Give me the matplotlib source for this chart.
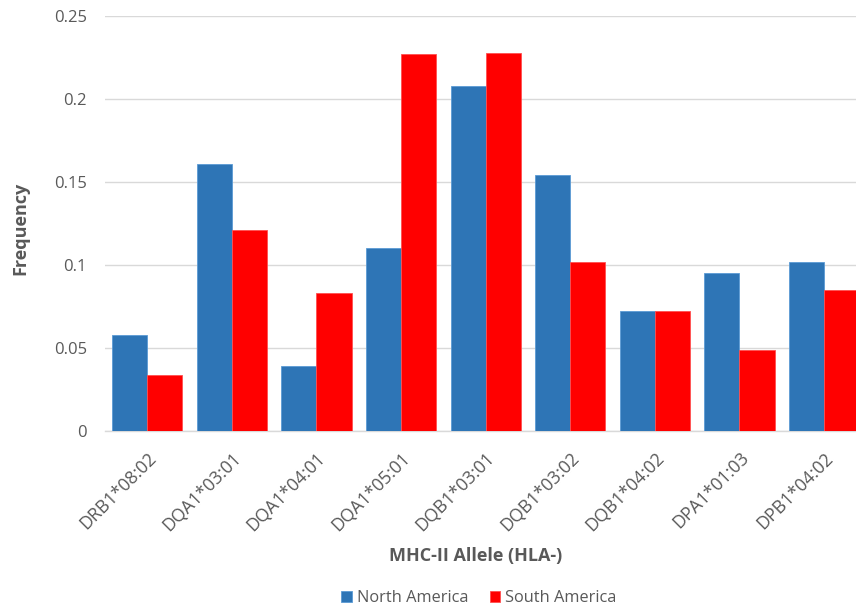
import matplotlib
matplotlib.use("Agg")
import matplotlib.pyplot as plt
import numpy as np

alleles = ["DRB1*08:02", "DQA1*03:01", "DQA1*04:01", "DQA1*05:01", "DQB1*03:01",
           "DQB1*03:02", "DQB1*04:02", "DPA1*01:03", "DPB1*04:02"]
north_america = [0.058, 0.161, 0.039, 0.110, 0.208, 0.154, 0.072, 0.095, 0.102]
south_america = [0.034, 0.121, 0.083, 0.227, 0.228, 0.102, 0.072, 0.049, 0.085]
y_ticks = [0, 0.05, 0.1, 0.15, 0.2, 0.25]
y_tick_labels = ["0", "0.05", "0.1", "0.15", "0.2", "0.25"]

plt.rcParams['font.family'] = ['Open Sans', 'DejaVu Sans']
text_gray = "#595959"

W, H = 856, 610
fig = plt.figure(figsize=(W / 100, H / 100), dpi=100)
ax = fig.add_axes([105 / W, (H - 431) / H, (856 - 105) / W, (431 - 16) / H])

x = np.arange(len(alleles))
bw = 0.414
ax.bar(x - bw / 2, north_america, width=bw, color="#2E75B6", edgecolor="#5B9BD5",
       linewidth=0.6, label="North America", zorder=3)
ax.bar(x + bw / 2, south_america, width=bw, color="#FF0000", edgecolor="#FF5050",
       linewidth=0.6, label="South America", zorder=3)

ax.set_ylim(0, 0.25)
ax.set_xlim(-0.5, -0.5 + 751 / 84.6)
ax.set_yticks(y_ticks)
ax.set_yticklabels(y_tick_labels, fontsize=12)
ax.set_xticks(x)
ax.set_xticklabels(alleles, rotation=45, ha="right", va="top",
                   rotation_mode="anchor", fontsize=12.8)
ax.tick_params(axis="both", length=0, colors=text_gray)
ax.tick_params(axis="y", pad=13)
ax.tick_params(axis="x", pad=13)
ax.yaxis.grid(True, color="#D9D9D9", linewidth=1, zorder=0)
for s in ["top", "right", "left"]:
    ax.spines[s].set_visible(False)
ax.spines["bottom"].set_color("#D9D9D9")
ax.spines["bottom"].set_linewidth(1)

fig.text(20 / W, 1 - 228 / H, "Frequency", rotation=90, ha="center", va="center",
         fontsize=13, fontweight="bold", color=text_gray)
fig.text(476 / W, 1 - 556 / H, "MHC-II Allele (HLA-)", ha="center", va="center",
         fontsize=13, fontweight="bold", color=text_gray)

leg = fig.legend(loc="center", bbox_to_anchor=(479 / W, 1 - 598 / H), ncol=2,
                 frameon=False, fontsize=11.8, handlelength=0.65, handleheight=0.65,
                 handletextpad=0.3, columnspacing=1.3, labelcolor=text_gray)

fig.savefig("out.png", dpi=100)
